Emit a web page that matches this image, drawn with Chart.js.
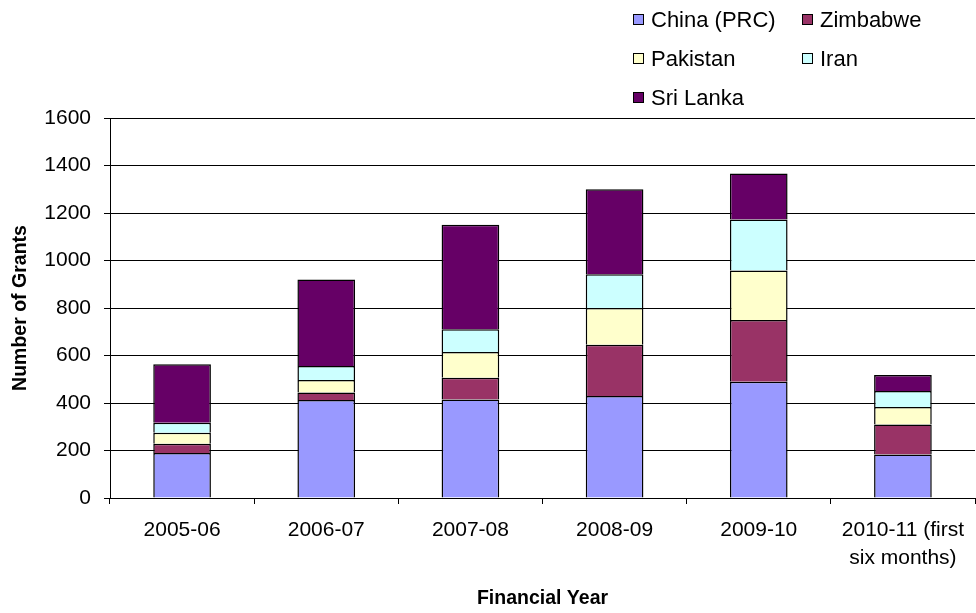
<!DOCTYPE html>
<html>
<head>
<meta charset="utf-8">
<script src="https://cdn.jsdelivr.net/npm/chart.js@4/dist/chart.umd.min.js"></script>
<style>
  html, body { margin: 0; padding: 0; background: #fff; }
  #wrap { position: relative; width: 976px; height: 613px; }
  #legend {
    position: absolute; left: 633px; top: 0;
    display: grid; grid-template-columns: 169px 160px; grid-auto-rows: 39px;
    font-family: "Liberation Sans", Arial, sans-serif; font-size: 22px; color: #000;
  }
  #legend .item { display: flex; align-items: center; height: 39px; white-space: nowrap; }
  #legend .box { width: 9px; height: 9px; border: 1px solid #000; margin-right: 7px; flex: none; }
</style>
</head>
<body>
<div id="wrap">
  <canvas id="grants" width="976" height="613"></canvas>
  <div id="legend"></div>
</div>
<script>
const years = ['2005-06', '2006-07', '2007-08', '2008-09', '2009-10', ['2010-11 (first', 'six months)']];
const countries = ['China (PRC)', 'Zimbabwe', 'Pakistan', 'Iran', 'Sri Lanka'];
const colors = ['#9999FF', '#993366', '#FFFFCC', '#CCFFFF', '#660066'];

const china = [190, 413, 415, 430, 489, 183];
const zimbabwe = [38, 31, 91, 215, 260, 127];
const pakistan = [47, 53, 109, 155, 209, 73];
const iran = [42, 59, 96, 142, 215, 68];
const sriLanka = [246, 364, 440, 358, 193, 67];

const yTicks = [0, 200, 400, 600, 800, 1000, 1200, 1400, 1600];

const series = [china, zimbabwe, pakistan, iran, sriLanka];

const font = { family: '"Liberation Sans", Arial, sans-serif', size: 21 };
const titleFont = { family: '"Liberation Sans", Arial, sans-serif', size: 19.5, weight: 'bold' };

const chart = new Chart(document.getElementById('grants'), {
  type: 'bar',
  data: {
    labels: years,
    datasets: series.map((d, i) => ({
      label: countries[i],
      data: d,
      backgroundColor: colors[i],
      borderColor: '#000',
      borderWidth: 1.5,
      barPercentage: 0.4,
      categoryPercentage: 1
    }))
  },
  options: {
    responsive: false,
    animation: false,
    layout: { padding: { top: 118, left: 0, right: 0, bottom: 0 } },
    plugins: {
      legend: { display: false },
      tooltip: { enabled: false }
    },
    scales: {
      x: {
        stacked: true,
        afterFit: (s) => { s.height = 115; },
        grid: { drawOnChartArea: false, color: '#000', tickLength: 6, offset: true },
        border: { color: '#000', width: 1 },
        ticks: { color: '#000', padding: 12, font: { ...font, lineHeight: 1.33 }, maxRotation: 0, autoSkip: false },
        title: {
          display: true, text: 'Financial Year', color: '#000',
          font: titleFont, padding: { top: 0, bottom: 3 }
        }
      },
      y: {
        stacked: true,
        min: 0, max: 1600,
        afterFit: (s) => { s.width = 110; },
        afterBuildTicks: (s) => { s.ticks = yTicks.map(v => ({ value: v })); },
        grid: { color: '#000', lineWidth: 1, tickLength: 6 },
        border: { color: '#000', width: 1 },
        ticks: { color: '#000', padding: 13, font: font, callback: (v) => String(v) },
        title: {
          display: true, text: 'Number of Grants', color: '#000',
          font: titleFont, padding: { top: 9, bottom: 0 }
        }
      }
    }
  }
});

const legendEl = document.getElementById('legend');
countries.forEach((name, i) => {
  const item = document.createElement('div');
  item.className = 'item';
  item.innerHTML = '<span class="box" style="background:' + colors[i] + '"></span>' + name;
  legendEl.appendChild(item);
});
</script>
</body>
</html>
